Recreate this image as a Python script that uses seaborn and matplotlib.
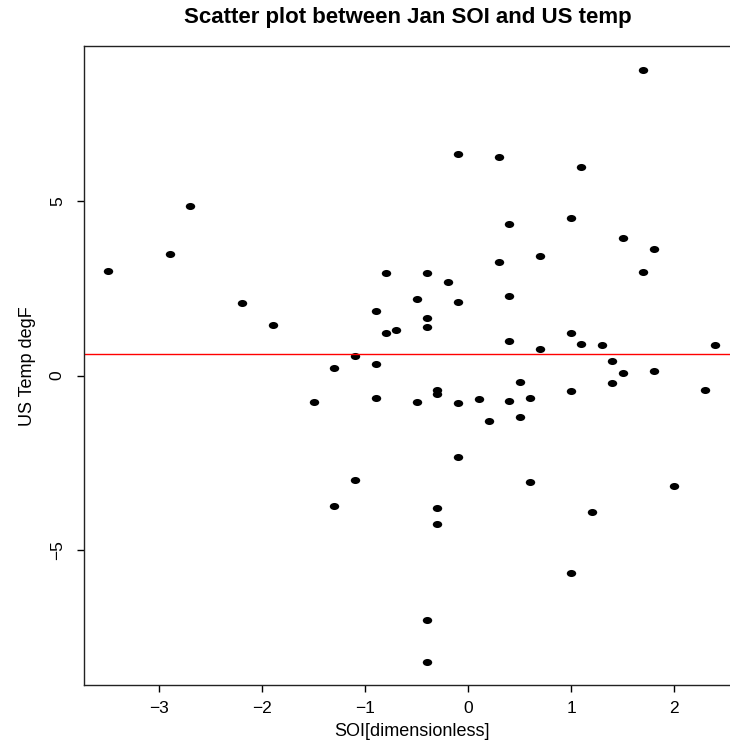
import numpy as np
import pandas as pd
import matplotlib
matplotlib.use("Agg")
import matplotlib.pyplot as plt
from matplotlib.path import Path
from matplotlib.transforms import Affine2D
import seaborn as sns

soi = [-3.5, -2.9, -2.7, -2.2, -1.9, -0.8, -0.9, -0.8, -0.7, -1.1, -0.9, -1.3,
       1.7, -0.1, 0.3, 1.1, 0.4, 1.0, 1.5, 1.8, 1.7, 0.7, 0.3, -0.4, -0.2, -0.5,
       -0.1, 0.4, -0.4, -0.4, 1.0, 0.4, 1.1, 1.3, 2.4, 0.7, 1.4, 1.8, 1.5, 1.4,
       2.3, 1.0, 0.5, -0.3, -0.3, -0.5, -0.1, 0.1, 0.4, 0.6, 0.2, 0.5, -0.1,
       0.6, 2.0, 1.2, -0.3, -0.3, 1.0, -0.4, -0.4, -0.9, -1.5, -1.1, -1.3]
temp = [3.0, 3.5, 4.85, 2.08, 1.46, 2.94, 1.86, 1.21, 1.30, 0.55, 0.34, 0.21,
        8.77, 6.34, 6.28, 5.97, 4.34, 4.53, 3.95, 3.63, 2.96, 3.42, 3.25, 2.94,
        2.68, 2.21, 2.11, 2.27, 1.66, 1.40, 1.21, 0.98, 0.92, 0.88, 0.88, 0.77,
        0.42, 0.14, 0.07, -0.20, -0.42, -0.43, -0.19, -0.42, -0.53, -0.77,
        -0.79, -0.67, -0.72, -0.65, -1.30, -1.19, -2.33, -3.05, -3.16, -3.90,
        -3.81, -4.26, -5.67, -7.02, -8.20, -0.63, -0.76, -2.98, -3.74]
fit_intercept = 0.62
fit_slope = 0.0
x_ticks = [-3, -2, -1, 0, 1, 2]
y_ticks = [-5, 0, 5]

df = pd.DataFrame({"SOI": soi, "Temp": temp})

sns.set_style("white")
plt.rcParams['font.family'] = ['Liberation Sans', 'DejaVu Sans']
plt.rcParams['axes.unicode_minus'] = True
plt.rcParams['text.color'] = 'black'
plt.rcParams['axes.labelcolor'] = 'black'
plt.rcParams['xtick.color'] = 'black'
plt.rcParams['ytick.color'] = 'black'

W, H = 730, 742
fig = plt.figure(figsize=(W/100, H/100), dpi=100)
ax = fig.add_axes([83.7/W, 56.7/H, (739.6-83.7)/W, (696-56.7)/H])

ell = Path.unit_circle().transformed(Affine2D().scale(1.0, 0.75))
sns.scatterplot(data=df, x="SOI", y="Temp", ax=ax, marker=ell, s=46,
                color="black", edgecolor="black", linewidth=0)
ax.axline((0, fit_intercept), slope=fit_slope, color="red", lw=1.0)

xr = max(soi) - min(soi)
yr = max(temp) - min(temp)
ax.set_xlim(min(soi) - 0.04*xr, max(soi) + 0.04*xr)
ax.set_ylim(min(temp) - 0.04*yr, max(temp) + 0.04*yr)
ax.set_xticks(x_ticks)
ax.set_xticklabels([f"{t}".replace("-", "\u2212") for t in x_ticks],
                   va="center")
ax.set_yticks(y_ticks)
ax.set_yticklabels([f"{t}".replace("-", "\u2212") for t in y_ticks],
                   rotation=90, va="center", ha="center")
ax.tick_params(axis="both", direction="out", length=5, width=1,
               color="black", labelsize=12.5, left=True, bottom=True)
ax.tick_params(axis="x", pad=12)
ax.tick_params(axis="y", pad=14)
for sp in ax.spines.values():
    sp.set_color("#222222")
    sp.set_linewidth(1.0)
ax.set_xlabel("SOI[dimensionless]", fontsize=13, va="center")
ax.xaxis.set_label_coords(0.5, (H - 732 - 56.7) / 639.3)
ax.set_ylabel("US Temp degF", fontsize=13, va="center")
ax.yaxis.set_label_coords((28 - 83.7) / 655.9, 0.5)
fig.text(408 / W, 1 - 18 / H, "Scatter plot between Jan SOI and US temp",
         ha="center", va="center", fontsize=16, fontweight="bold")
fig.savefig("out.png", dpi=100)
